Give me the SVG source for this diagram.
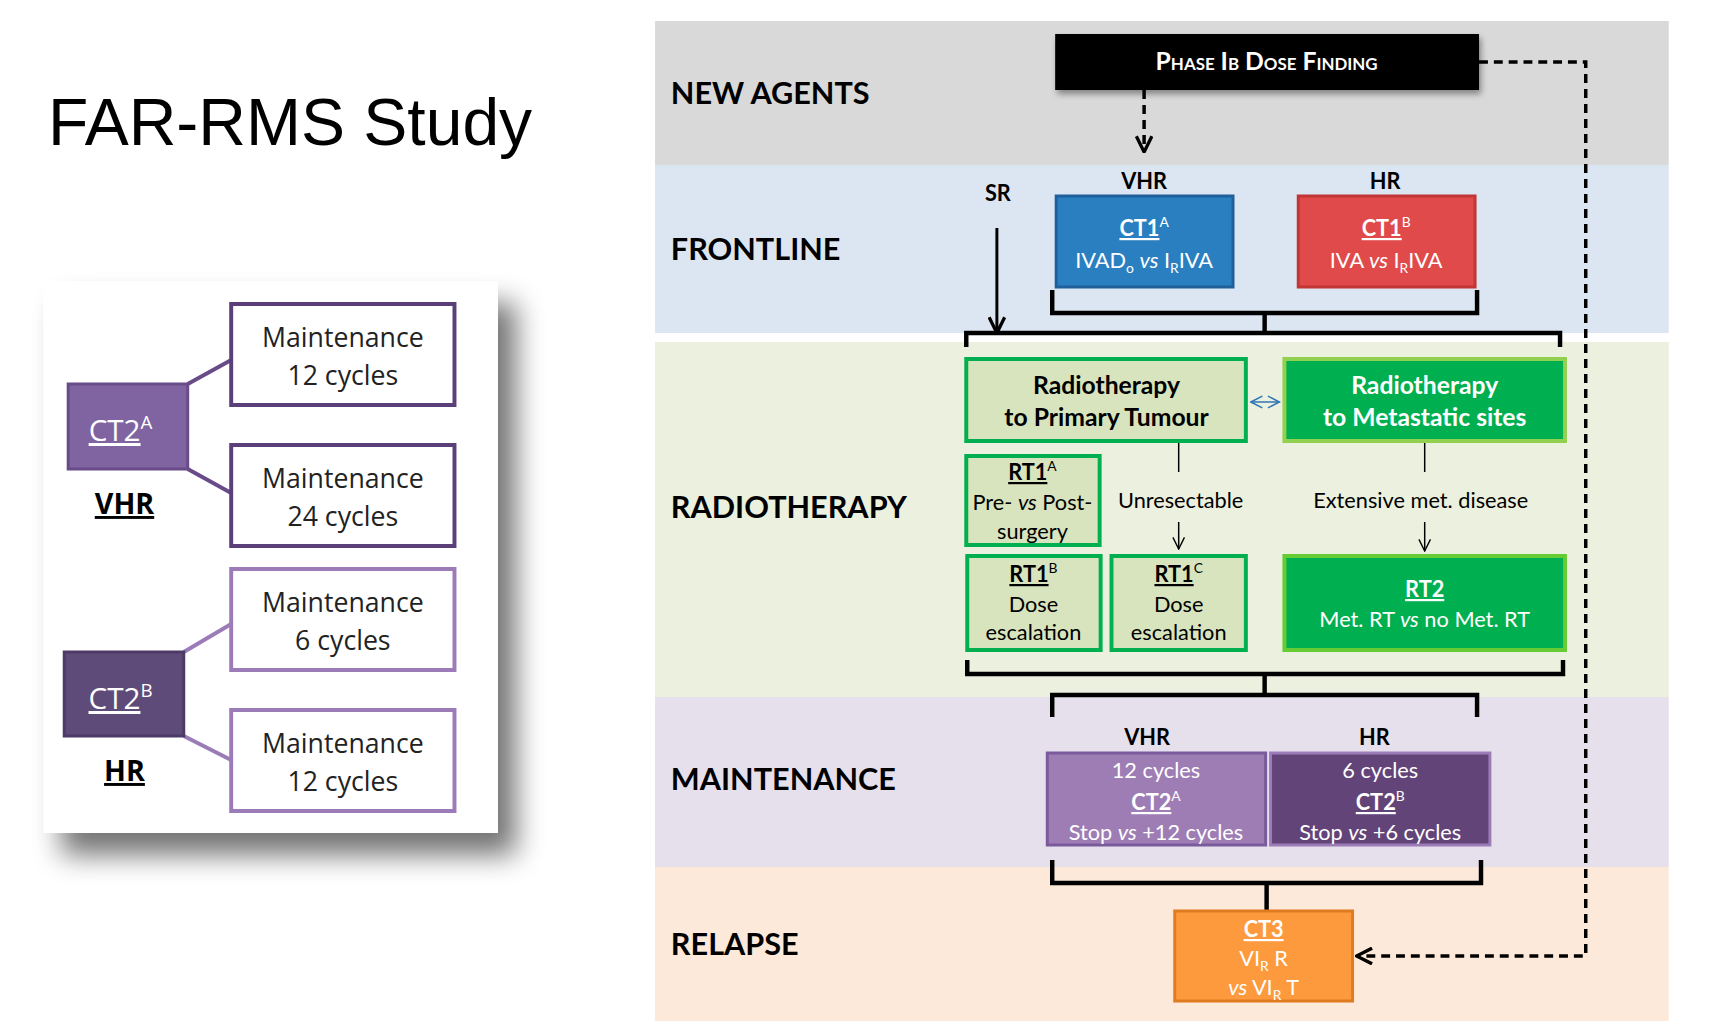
<svg xmlns="http://www.w3.org/2000/svg" width="1714" height="1025" viewBox="0 0 1714 1025">
<defs>
<filter id="sh" x="-20%" y="-20%" width="150%" height="150%"><feGaussianBlur in="SourceAlpha" stdDeviation="14"/><feOffset dx="18" dy="22"/><feComponentTransfer><feFuncA type="linear" slope="0.55"/></feComponentTransfer><feMerge><feMergeNode/><feMergeNode in="SourceGraphic"/></feMerge></filter>
<filter id="sh2" x="-10%" y="-30%" width="120%" height="180%"><feGaussianBlur in="SourceAlpha" stdDeviation="3"/><feOffset dx="2" dy="4"/><feComponentTransfer><feFuncA type="linear" slope="0.4"/></feComponentTransfer><feMerge><feMergeNode/><feMergeNode in="SourceGraphic"/></feMerge></filter>
<marker id="ahb" viewBox="0 0 16 16" refX="15" refY="8" markerWidth="18" markerHeight="18" markerUnits="userSpaceOnUse" orient="auto"><path d="M1,1 L15,8 L1,15" fill="none" stroke="#000" stroke-width="3"/></marker>
<marker id="ahs" viewBox="0 0 12 12" refX="11" refY="6" markerWidth="14" markerHeight="14" markerUnits="userSpaceOnUse" orient="auto"><path d="M1,1 L11,6 L1,11" fill="none" stroke="#000" stroke-width="1.2"/></marker>
<marker id="ahbl" viewBox="0 0 12 12" refX="11" refY="6" markerWidth="14" markerHeight="16" markerUnits="userSpaceOnUse" orient="auto-start-reverse"><path d="M1,1 L11,6 L1,11" fill="none" stroke="#2e75b6" stroke-width="1.3"/></marker>
</defs>
<style>
text{font-family:Lato,"Open Sans","Liberation Sans",sans-serif}
.band{font-size:31px;font-weight:bold;fill:#000}
.lbl{font-size:22px;font-weight:bold;fill:#000;text-anchor:middle}
.w{fill:#fff;text-anchor:middle;font-size:22px}
.k{fill:#000;text-anchor:middle;font-size:22px}
.b{font-weight:bold}
.u{text-decoration:underline}
.big{font-size:25px}
.brace{fill:none;stroke:#000;stroke-width:4.5}
.mt{font-family:"Open Sans","Liberation Sans",sans-serif;font-size:27px;fill:#222;text-anchor:middle}
.mb{fill:#fff;stroke-width:4}
</style>
<rect width="1714" height="1025" fill="#fff"/>
<text x="48" y="145" font-size="66" fill="#000" style="font-family:'Liberation Sans',Arial,sans-serif">FAR-RMS Study</text>
<g transform="matrix(0.988 0 0 1 0 0)">
<g id="left-panel">
<rect x="44" y="281" width="460" height="552" fill="#fff" filter="url(#sh)"/>
<g stroke-width="4" fill="none">
<path d="M190,384 L234,360 M190,469 L234,493" stroke="#6a4b8a"/>
<path d="M186,652 L234,624 M186,736 L234,760" stroke="#9b7cb8"/>
</g>
<g id="ct2a-left"><rect x="69" y="384" width="121" height="85" fill="#8064a2" stroke="#6a4b8a" stroke-width="3"/>
<text x="122" y="441" font-size="30" fill="#fff" text-anchor="middle" style="font-family:'Open Sans',sans-serif"><tspan class="u">CT2</tspan><tspan font-size="19" dy="-12">A</tspan></text></g>
<text x="126" y="514" font-size="29" font-weight="bold" text-anchor="middle" class="u" style="font-family:'Open Sans',sans-serif">VHR</text>
<g id="ct2b-left"><rect x="65" y="652" width="121" height="84" fill="#5f4b7a" stroke="#4d3a66" stroke-width="3"/>
<text x="122" y="709" font-size="30" fill="#fff" text-anchor="middle" style="font-family:'Open Sans',sans-serif"><tspan class="u">CT2</tspan><tspan font-size="19" dy="-12">B</tspan></text></g>
<text x="126" y="781" font-size="29" font-weight="bold" text-anchor="middle" class="u" style="font-family:'Open Sans',sans-serif">HR</text>
<g id="m12a"><rect class="mb" x="234" y="304" width="226" height="101" stroke="#5a3f78"/><text class="mt" x="347" y="347">Maintenance</text><text class="mt" x="347" y="385">12 cycles</text></g>
<g id="m24"><rect class="mb" x="234" y="445" width="226" height="101" stroke="#5a3f78"/><text class="mt" x="347" y="488">Maintenance</text><text class="mt" x="347" y="526">24 cycles</text></g>
<g id="m6"><rect class="mb" x="234" y="569" width="226" height="101" stroke="#9b7cb8"/><text class="mt" x="347" y="612">Maintenance</text><text class="mt" x="347" y="650">6 cycles</text></g>
<g id="m12b"><rect class="mb" x="234" y="710" width="226" height="101" stroke="#9b7cb8"/><text class="mt" x="347" y="753">Maintenance</text><text class="mt" x="347" y="791">12 cycles</text></g>
</g>

<g id="bands">
<rect x="663" y="21" width="1026" height="144" fill="#d9d9d9"/>
<rect x="663" y="165" width="1026" height="168" fill="#dce6f2"/>
<rect x="663" y="342" width="1026" height="355" fill="#ebf1de"/>
<rect x="663" y="697" width="1026" height="170" fill="#e6e0ec"/>
<rect x="663" y="867" width="1026" height="154" fill="#fde9d9"/>
<text class="band" x="679" y="104">NEW AGENTS</text>
<text class="band" x="679" y="260">FRONTLINE</text>
<text class="band" x="679" y="518">RADIOTHERAPY</text>
<text class="band" x="679" y="790">MAINTENANCE</text>
<text class="band" x="679" y="955">RELAPSE</text>
</g>

<g id="connectors">
<path d="M1158,90 L1158,152" stroke="#000" stroke-width="3.5" stroke-dasharray="9,6" fill="none" marker-end="url(#ahb)"/>
<path d="M1497,62 L1605,62 L1605,956 L1373,956" stroke="#000" stroke-width="3.5" stroke-dasharray="9,6" fill="none" marker-end="url(#ahb)"/>
<path d="M1009,228 L1009,333" stroke="#000" stroke-width="3" fill="none" marker-end="url(#ahb)"/>
<path class="brace" d="M1065,290 L1065,313 L1495,313 L1495,290 M1280,313 L1280,333"/>
<path class="brace" d="M978,347 L978,333 L1579,333 L1579,347"/>
<path d="M1266,402 L1295,402" stroke="#2e75b6" stroke-width="1.5" marker-start="url(#ahbl)" marker-end="url(#ahbl)"/>
<path d="M1193,443 L1193,472 M1442,443 L1442,472" stroke="#000" stroke-width="1.5"/>
<path d="M1193,522 L1193,549" stroke="#000" stroke-width="1.5" marker-end="url(#ahs)"/>
<path d="M1442,522 L1442,551" stroke="#000" stroke-width="1.5" marker-end="url(#ahs)"/>
<path class="brace" d="M979,660 L979,674 L1582,674 L1582,660 M1280,674 L1280,695"/>
<path class="brace" d="M1065,717 L1065,695 L1495,695 L1495,717"/>
<path class="brace" d="M1065,860 L1065,883 L1499,883 L1499,860 M1282,883 L1282,911"/>
</g>

<g id="phase"><rect x="1068" y="34" width="429" height="56" fill="#000" filter="url(#sh2)"/>
<text x="1282" y="70" fill="#fff" text-anchor="middle" font-size="25" font-weight="bold" style="font-variant:small-caps">Phase Ib Dose Finding</text></g>

<text class="lbl" x="1158" y="189">VHR</text>
<text class="lbl" x="1402" y="189">HR</text>
<text class="lbl" x="1010" y="201">SR</text>

<g id="ct1a"><rect x="1069" y="196" width="179" height="91" fill="#2a7fc1" stroke="#1f5f9a" stroke-width="3"/>
<text class="w" x="1158" y="236"><tspan class="b u">CT1</tspan><tspan font-size="14" dy="-9">A</tspan></text>
<text class="w" x="1158" y="268">IVAD<tspan font-size="14" dy="5">o</tspan><tspan dy="-5"> </tspan><tspan font-style="italic">vs</tspan> I<tspan font-size="14" dy="5">R</tspan><tspan dy="-5">IVA</tspan></text></g>
<g id="ct1b"><rect x="1314" y="196" width="179" height="91" fill="#e04a4a" stroke="#c23535" stroke-width="3"/>
<text class="w" x="1403" y="236"><tspan class="b u">CT1</tspan><tspan font-size="14" dy="-9">B</tspan></text>
<text class="w" x="1403" y="268">IVA <tspan font-style="italic">vs</tspan> I<tspan font-size="14" dy="5">R</tspan><tspan dy="-5">IVA</tspan></text></g>

<g id="rt-primary"><rect x="978" y="359" width="283" height="82" fill="#d7e4bd" stroke="#00b050" stroke-width="4"/>
<text class="k b big" x="1120" y="394">Radiotherapy</text><text class="k b big" x="1120" y="426">to Primary Tumour</text></g>
<g id="rt-met"><rect x="1300" y="359" width="284" height="82" fill="#00b050" stroke="#92d050" stroke-width="4"/>
<text class="w b big" x="1442" y="394">Radiotherapy</text><text class="w b big" x="1442" y="426">to Metastatic sites</text></g>
<text class="k" x="1195" y="508">Unresectable</text>
<text class="k" x="1438" y="508">Extensive met. disease</text>

<g id="rt1a"><rect x="978" y="456" width="135" height="89" fill="#d7e4bd" stroke="#00b050" stroke-width="4"/>
<text class="k" x="1045" y="480"><tspan class="b u">RT1</tspan><tspan font-size="14" dy="-9">A</tspan></text>
<text class="k" x="1045" y="510">Pre- <tspan font-style="italic">vs</tspan> Post-</text><text class="k" x="1045" y="539">surgery</text></g>
<g id="rt1b"><rect x="979" y="556" width="135" height="94" fill="#d7e4bd" stroke="#00b050" stroke-width="4"/>
<text class="k" x="1046" y="582"><tspan class="b u">RT1</tspan><tspan font-size="14" dy="-9">B</tspan></text>
<text class="k" x="1046" y="612">Dose</text><text class="k" x="1046" y="640">escalation</text></g>
<g id="rt1c"><rect x="1125" y="556" width="136" height="94" fill="#d7e4bd" stroke="#00b050" stroke-width="4"/>
<text class="k" x="1193" y="582"><tspan class="b u">RT1</tspan><tspan font-size="14" dy="-9">C</tspan></text>
<text class="k" x="1193" y="612">Dose</text><text class="k" x="1193" y="640">escalation</text></g>
<g id="rt2"><rect x="1300" y="556" width="284" height="94" fill="#00b050" stroke="#66cc33" stroke-width="4"/>
<text class="w b u" x="1442" y="597">RT2</text>
<text class="w" x="1442" y="627">Met. RT <tspan font-style="italic">vs</tspan> no Met. RT</text></g>

<text class="lbl" x="1161" y="745">VHR</text>
<text class="lbl" x="1391" y="745">HR</text>
<g id="ct2a"><rect x="1060" y="753" width="221" height="92" fill="#9e7db5" stroke="#7a5a9a" stroke-width="3"/>
<text class="w" x="1170" y="778">12 cycles</text>
<text class="w" x="1170" y="810"><tspan class="b u">CT2</tspan><tspan font-size="14" dy="-9">A</tspan></text>
<text class="w" x="1170" y="840">Stop <tspan font-style="italic">vs</tspan> +12 cycles</text></g>
<g id="ct2b"><rect x="1286" y="753" width="222" height="92" fill="#634478" stroke="#9b7cb8" stroke-width="3"/>
<text class="w" x="1397" y="778">6 cycles</text>
<text class="w" x="1397" y="810"><tspan class="b u">CT2</tspan><tspan font-size="14" dy="-9">B</tspan></text>
<text class="w" x="1397" y="840">Stop <tspan font-style="italic">vs</tspan> +6 cycles</text></g>

<g id="ct3"><rect x="1189" y="911" width="180" height="90" fill="#fd9a3e" stroke="#e07b20" stroke-width="3"/>
<text class="w b u" x="1279" y="937">CT3</text>
<text class="w" x="1279" y="966">VI<tspan font-size="14" dy="5">R</tspan><tspan dy="-5"> R</tspan></text>
<text class="w" x="1279" y="995"><tspan font-style="italic">vs</tspan> VI<tspan font-size="14" dy="5">R</tspan><tspan dy="-5"> T</tspan></text></g>
</g>
</svg>
